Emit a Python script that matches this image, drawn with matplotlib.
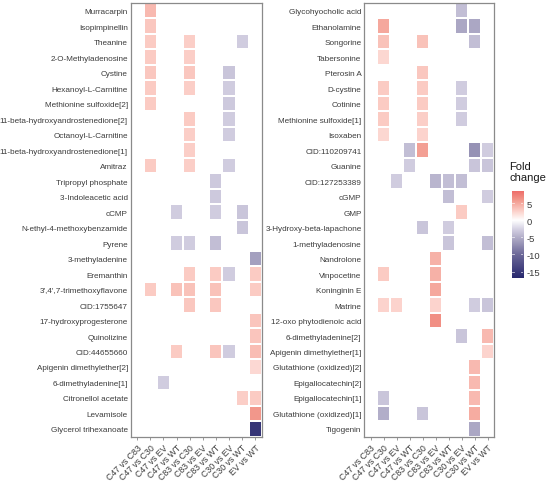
import numpy as np
import matplotlib
matplotlib.use("Agg")
import matplotlib.pyplot as plt
from matplotlib.colors import LinearSegmentedColormap, Normalize

_ = np.nan

comparisons = ["C47 vs C83", "C47 vs C30", "C47 vs EV", "C47 vs WT", "C83 vs C30",
               "C83 vs EV", "C83 vs WT", "C30 vs EV", "C30 vs WT", "EV vs WT"]

left_metabolites = [
    "Murracarpin", "Isopimpinellin", "Theanine", "2-O-Methyladenosine", "Cystine",
    "Hexanoyl-L-Carnitine", "Methionine sulfoxide[2]", "11-beta-hydroxyandrostenedione[2]",
    "Octanoyl-L-Carnitine", "11-beta-hydroxyandrostenedione[1]", "Amitraz",
    "Tripropyl phosphate", "3-Indoleacetic acid", "cCMP", "N-ethyl-4-methoxybenzamide",
    "Pyrene", "3-methyladenine", "Eremanthin", "3',4',7-trimethoxyflavone", "CID:1755647",
    "17-hydroxyprogesterone", "Quinolizine", "CID:44655660", "Apigenin dimethylether[2]",
    "6-dimethyladenine[1]", "Citronellol acetate", "Levamisole", "Glycerol trihexanoate",
]

right_metabolites = [
    "Glycohyocholic acid", "Ethanolamine", "Songorine", "Tabersonine", "Pterosin A",
    "D-cystine", "Cotinine", "Methionine sulfoxide[1]", "Isoxaben", "CID:110209741",
    "Guanine", "CID:127253389", "cGMP", "GMP", "3-Hydroxy-beta-lapachone",
    "1-methyladenosine", "Nandrolone", "Vinpocetine", "Koninginin E", "Matrine",
    "12-oxo phytodienoic acid", "6-dimethyladenine[2]", "Apigenin dimethylether[1]",
    "Glutathione (oxidized)[2]", "Epigallocatechin[2]", "Epigallocatechin[1]",
    "Glutathione (oxidized)[1]", "Tigogenin",
]

# fold change values: rows = metabolites, columns = comparisons (nan = not significant)
left_values = [
    [_, 4.0, _, _, _, _, _, _, _, _],
    [_, 3.2, _, _, _, _, _, _, _, _],
    [_, 3.0, _, _, 2.8, _, _, _, -3.0, _],
    [_, 3.0, _, _, 2.8, _, _, _, _, _],
    [_, 3.2, _, _, 3.2, _, _, -3.5, _, _],
    [_, 3.0, _, _, 2.8, _, _, -3.0, _, _],
    [_, 3.0, _, _, _, _, _, -3.2, _, _],
    [_, _, _, _, 3.0, _, _, -3.0, _, _],
    [_, _, _, _, 2.8, _, _, -3.0, _, _],
    [_, _, _, _, 2.8, _, _, _, _, _],
    [_, 3.0, _, _, 2.8, _, _, -3.0, _, _],
    [_, _, _, _, _, _, -3.2, _, _, _],
    [_, _, _, _, _, _, -3.2, _, _, _],
    [_, _, _, -3.0, _, _, -3.0, _, -3.5, _],
    [_, _, _, _, _, _, _, _, -3.5, _],
    [_, _, _, -3.0, -3.0, _, -4.0, _, _, _],
    [_, _, _, _, _, _, _, _, _, -6.0],
    [_, _, _, _, 3.0, _, 3.0, -3.0, _, 3.0],
    [_, 3.0, _, 3.5, 3.5, _, 3.5, _, _, 3.0],
    [_, _, _, _, 3.2, _, 3.2, _, _, _],
    [_, _, _, _, _, _, _, _, _, 3.3],
    [_, _, _, _, _, _, _, _, _, 3.3],
    [_, _, _, 3.0, _, _, 3.3, -3.0, _, 3.8],
    [_, _, _, _, _, _, _, _, _, 2.2],
    [_, _, -3.0, _, _, _, _, _, _, _],
    [_, _, _, _, _, _, _, _, 2.8, 3.0],
    [_, _, _, _, _, _, _, _, _, 6.0],
    [_, _, _, _, _, _, _, _, _, -15.5],
]

right_values = [
    [_, _, _, _, _, _, _, -4.0, _, _],
    [_, 5.0, _, _, _, _, _, -5.5, -5.5, _],
    [_, 3.5, _, _, 3.5, _, _, _, -4.0, _],
    [_, 2.3, _, _, _, _, _, _, _, _],
    [_, _, _, _, 3.2, _, _, _, _, _],
    [_, 3.0, _, _, 3.0, _, _, -3.0, _, _],
    [_, 3.0, _, _, 3.0, _, _, -3.0, _, _],
    [_, 3.0, _, _, 2.8, _, _, -3.0, _, _],
    [_, 2.3, _, _, 2.5, _, _, _, _, _],
    [_, _, _, -4.0, 5.5, _, _, _, -7.0, -3.0],
    [_, _, _, -3.0, _, _, _, _, -3.5, -3.5],
    [_, _, -3.0, _, _, -4.5, -4.0, -4.0, _, _],
    [_, _, _, _, _, _, -4.0, _, _, -3.0],
    [_, _, _, _, _, _, _, 3.0, _, _],
    [_, _, _, _, -3.5, _, -3.0, _, _, _],
    [_, _, _, _, _, _, -3.5, _, _, -4.0],
    [_, _, _, _, _, 4.5, _, _, _, _],
    [_, 3.0, _, _, _, 4.5, _, _, _, _],
    [_, _, _, _, _, 5.0, _, _, _, _],
    [_, 2.5, 2.5, _, _, 2.5, _, _, -3.0, -3.5],
    [_, _, _, _, _, 6.5, _, _, _, _],
    [_, _, _, _, _, _, _, -3.5, _, 4.0],
    [_, _, _, _, _, _, _, _, _, 2.5],
    [_, _, _, _, _, _, _, _, 4.0, _],
    [_, _, _, _, _, _, _, _, 4.0, _],
    [_, -3.5, _, _, _, _, _, _, 4.0, _],
    [_, -5.0, _, _, -3.5, _, _, _, 4.8, _],
    [_, _, _, _, _, _, _, _, -5.5, _],
]

colorbar_ticks = [5, 0, -5, -10, -15]

vmin, vmax = -16.9, 8.5
nodes = [(-16.9, "#28286e"), (-10, "#6d6999"), (-5, "#b3afc9"), (-3, "#cfcbdf"),
         (0, "#ffffff"), (3, "#fbcbc3"), (6, "#f2978b"), (8.5, "#ee6e6a")]
cmap = LinearSegmentedColormap.from_list(
    "fc", [((v - vmin) / (vmax - vmin), c) for v, c in nodes])
norm = Normalize(vmin=vmin, vmax=vmax)

W, H = 550, 485
fig = plt.figure(figsize=(W / 100, H / 100), dpi=100)
plt.rcParams["font.family"] = ["Liberation Sans", "DejaVu Sans"]

text_color = "#3c3c3c"
frame_color = "#8a8a8a"


def px_axes(x0, y0, x1, y1):
    return fig.add_axes([x0 / W, 1 - y1 / H, (x1 - x0) / W, (y1 - y0) / H])


def draw_panel(ax, labels, values):
    data = np.ma.masked_invalid(np.array(values, dtype=float))
    nrow, ncol = data.shape
    ax.pcolormesh(np.arange(ncol + 1), np.arange(nrow + 1), data, cmap=cmap, norm=norm,
                  edgecolors="white", linewidth=0.3)
    ax.set_xlim(0, ncol)
    ax.set_ylim(nrow, 0)
    ax.set_yticks(np.arange(nrow) + 0.5)
    ax.set_yticklabels(labels, fontsize=5.9, color=text_color)
    ax.set_xticks(np.arange(ncol) + 0.5)
    ax.set_xticklabels(comparisons, rotation=45, ha="right", va="top",
                       rotation_mode="anchor", fontsize=6.3, color=text_color)
    ax.tick_params(axis="y", length=0, pad=2)
    ax.tick_params(axis="x", length=2.5, width=0.6, color=frame_color, pad=2)
    for s in ax.spines.values():
        s.set_color(frame_color)
        s.set_linewidth(0.9)


axL = px_axes(130.7, 4, 261.7, 437.7)
draw_panel(axL, left_metabolites, left_values)
axR = px_axes(364.3, 4, 494.3, 437.7)
draw_panel(axR, right_metabolites, right_values)

# colorbar
cax = px_axes(511.7, 192.3, 522.7, 279)
grad = np.linspace(vmax, vmin, 256).reshape(-1, 1)
cax.imshow(grad, aspect="auto", cmap=cmap, norm=norm, extent=[0, 1, vmin, vmax])
cax.set_xlim(0, 1)
cax.set_ylim(vmin, vmax)
cax.set_xticks([])
cax.yaxis.tick_right()
cax.set_yticks(colorbar_ticks)
cax.set_yticklabels([str(t) for t in colorbar_ticks], fontsize=6.8, color=text_color)
cax.tick_params(axis="y", length=0, pad=3)
for t in colorbar_ticks:
    cax.plot([0, 0.2], [t, t], color="white", lw=0.6, alpha=0.7)
    cax.plot([0.8, 1], [t, t], color="white", lw=0.6, alpha=0.7)
for s in cax.spines.values():
    s.set_visible(False)
fig.text(509 / W, 1 - 162 / H, "Fold\nchange", fontsize=8, color="#1a1a1a",
         ha="left", va="top", linespacing=1.1)

fig.savefig("out.png", dpi=100)
